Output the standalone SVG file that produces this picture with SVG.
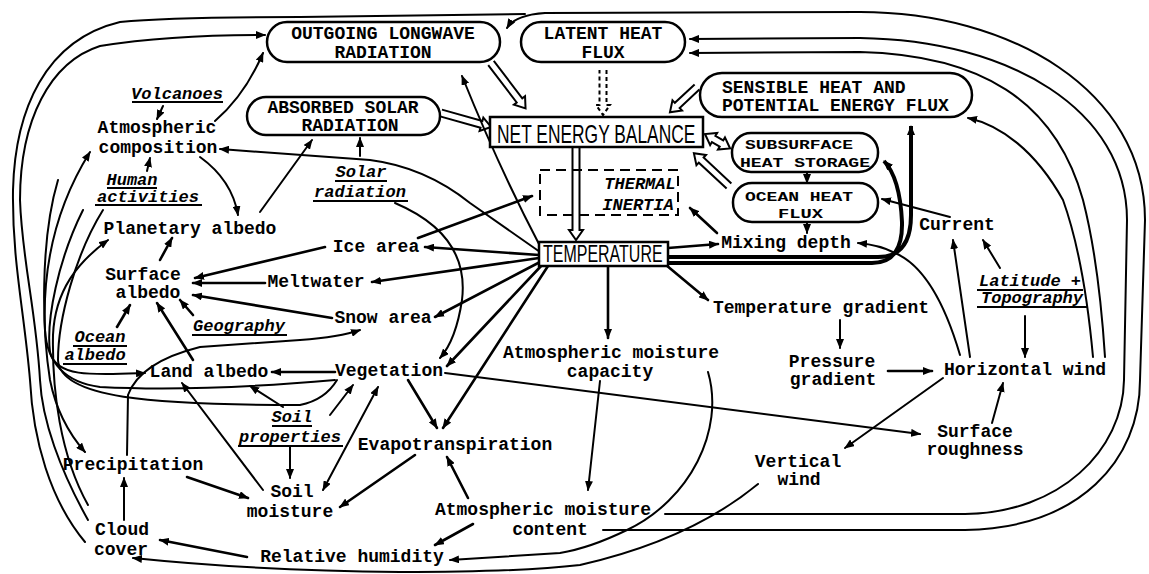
<svg xmlns="http://www.w3.org/2000/svg" width="1149" height="574" viewBox="0 0 1149 574">
<defs>
<marker id="a" viewBox="0 0 10 8" refX="9" refY="4" markerWidth="10" markerHeight="8" markerUnits="userSpaceOnUse" orient="auto-start-reverse"><path d="M0,0 L10,4 L0,8 z" fill="#000"/></marker>
<style>
.t{font-family:"Liberation Mono",monospace;font-weight:bold;font-size:18px;text-anchor:middle;fill:#000}
.s{font-family:"Liberation Mono",monospace;font-weight:bold;font-size:13.5px;fill:#000}
.i{font-family:"Liberation Mono",monospace;font-weight:bold;font-style:italic;font-size:17px;text-anchor:middle;fill:#000}
.box{fill:#fff;stroke:#000;stroke-width:2.5}
.c{fill:none;stroke:#000;stroke-width:2;stroke-linecap:round}
.k{fill:none;stroke:#000;stroke-width:2.6;stroke-linecap:round}
.th{fill:none;stroke:#000;stroke-width:4}
.ar{marker-end:url(#a)}
.dbl{marker-start:url(#a);marker-end:url(#a)}
.u{stroke:#000;stroke-width:2}
.blk{fill:#fff;stroke:#000;stroke-width:2;stroke-linejoin:miter}
.cap{font-family:"Liberation Sans",sans-serif;fill:#000}
</style>
</defs>

<g id="connectors">
<!-- block (hollow) arrows -->
<path class="blk" transform="translate(441,113) rotate(15.6)" d="M0,-3.5 H42 V-7 L52,0 L42,7 V3.5 H0"/>
<path class="blk" transform="translate(491,63) rotate(52.7)" d="M0,-3.5 H47 V-7 L57,0 L47,7 V3.5 H0"/>
<path class="blk" transform="translate(603,70) rotate(90)" d="M0,-3.5 H35 V-7 L45,0 L35,7 V3.5 H0" stroke-dasharray="4,3" stroke-width="1.5"/>
<path class="blk" transform="translate(697,87) rotate(137)" d="M0,-3.5 H27 V-7 L37,0 L27,7 V3.5 H0"/>
<path class="blk" transform="translate(705,134) rotate(30)" d="M10,-3.5 H19 V-7 L29,0 L19,7 V3.5 H10 V7 L0,0 L10,-7 Z"/>
<path class="blk" transform="translate(729,186) rotate(223)" d="M0,-3.5 H38 V-7 L48,0 L38,7 V3.5 H0"/>
<path class="blk" transform="translate(576,147) rotate(90)" d="M0,-3.5 H83 V-7 L93,0 L83,7 V3.5 H0"/>

<!-- outer loops right -->
<path class="c ar" d="M603,530 H965 C1080,528 1140,460 1140,380 L1145,220 C1145,90 1010,12 860,12 L545,13 Q515,15 507,28"/>
<path class="c ar" d="M665,514 H965 C1060,513 1123,450 1124,380 L1127,220 C1127,110 1010,40 860,38 L690,39"/>
<path class="c ar" d="M1105,357 C1100,280 1092,235 1083,200 C1055,100 980,55 860,52 L690,53"/>
<path class="c ar" d="M1093,357 C1085,270 1072,225 1063,200 C1035,150 1000,125 968,118"/>

<!-- outer loops left -->
<path class="c" d="M85,542 C50,500 33,440 30,380 C24,310 12,260 13,190 C15,110 45,40 120,22 Q170,17 300,17 L525,14"/>
<path class="c ar" d="M88,520 C60,470 42,420 40,380 C36,310 22,260 20,200 C20,120 50,62 100,46 Q170,35 265,35"/>
<path class="c ar" d="M88,505 C60,455 52,390 53,335 C55,290 78,262 108,240"/>
<path class="c ar" d="M58,180 C40,240 42,330 50,380 C56,410 70,435 85,452"/>
<path class="c ar" d="M335,380 Q200,392 100,387 Q48,380 45,330 C42,260 60,200 90,152"/>
<path class="c ar" d="M83,210 C58,260 46,320 50,352 C56,378 95,375 145,373"/>
<path class="c" d="M103,210 C75,255 58,320 58,360 C60,398 150,405 300,405 Q325,400 337,380"/>

<!-- top-left -->
<path class="c ar" d="M163,106 L157,119"/>
<path class="c ar" d="M147,171 L150,158"/>
<path class="c ar" d="M215,121 Q245,95 263,53"/>
<path class="c ar" d="M200,157 Q232,180 238,215"/>
<path class="c ar" d="M260,212 L312,140"/>
<path class="c ar" d="M360,156 L360,138"/>
<path class="c ar" d="M540,252 L470,203 Q425,167 370,160 L220,149"/>
<path class="c ar" d="M540,246 Q500,170 462,76"/>
<path class="c ar" d="M395,203 Q470,235 462,300 Q456,340 440,358"/>

<!-- temperature fan -->
<path class="k ar" d="M418,238 L532,196"/>
<path class="k ar" d="M539,255 L425,247"/>
<path class="k ar" d="M539,258 L372,282"/>
<path class="k ar" d="M540,262 L435,317"/>
<path class="k ar" d="M542,265 L447,366"/>
<path class="k ar" d="M548,266 L443,428"/>
<path class="k ar" d="M608,266 L608,338"/>
<path class="k ar" d="M666,265 L708,300"/>
<path class="k ar" d="M668,248 L718,244"/>
<path class="k ar" d="M717,233 L690,208"/>
<path class="c ar" d="M807,222 L807,233"/>
<path class="c ar" d="M807,172 L807,183"/>

<!-- thick temperature to ocean side -->
<path class="th ar" d="M668,257 H878 Q911,257 911,215 V126"/>
<path class="th ar" d="M668,263 H872 Q903,263 902,222 Q900,178 884,161"/>
<path class="c ar" d="M950,217 L882,199"/>
<path class="c ar" d="M960,355 Q935,270 895,253 Q880,245 858,243"/>
<path class="c ar" d="M970,357 L953,240"/>
<path class="c ar" d="M1000,268 L983,240"/>
<path class="c ar" d="M1025,316 L1025,357" stroke-width="1.5"/>
<path class="c ar" d="M840,320 L840,348" stroke-width="1.5"/>
<path class="k ar" d="M888,371 L932,371"/>
<path class="c ar" d="M943,378 L845,448"/>
<path class="c ar" d="M992,423 L1003,383"/>
<path class="c ar" d="M445,373 L920,434"/>

<!-- moisture chain -->
<path class="c ar" d="M600,381 L588,490" stroke-width="1.5"/>
<path class="c ar" d="M708,372 C725,430 690,500 627,530 Q590,548 560,553 L450,560"/>
<path class="c ar" d="M758,484 Q690,540 580,565 Q520,572 400,572 Q260,571 133,558"/>
<path class="k ar" d="M247,557 L160,540"/>
<path class="k ar" d="M473,524 L435,545"/>
<path class="k ar" d="M468,498 L447,457"/>
<path class="k ar" d="M415,455 L340,507"/>
<path class="c dbl" d="M323,490 L378,387"/>
<path class="c ar" d="M330,415 L353,385"/>
<path class="c ar" d="M290,446 L290,478" stroke-width="1.5"/>
<path class="k ar" d="M408,380 L437,428"/>
<path class="k ar" d="M187,477 L248,498"/>
<path class="c ar" d="M263,490 L182,383"/>
<path class="c ar" d="M283,407 L250,386"/>
<path class="c ar" d="M124,520 L124,478"/>
<path class="c ar" d="M127,455 L128,395 Q140,362 200,347 L300,340 Q340,337 360,330"/>

<!-- albedo cluster -->
<path class="k ar" d="M335,372 L272,372"/>
<path class="k ar" d="M193,360 L157,303"/>
<path class="k ar" d="M193,315 L180,300"/>
<path class="k ar" d="M117,327 L130,305"/>
<path class="k ar" d="M160,260 L172,238"/>
<path class="k ar" d="M325,247 L195,278"/>
<path class="k ar" d="M265,283 L193,283"/>
<path class="k ar" d="M332,318 L193,295"/>
</g>

<g id="n-outgoing"><rect class="box" x="267" y="22" width="233" height="40" rx="20"/><text class="t" x="383" y="39">OUTGOING LONGWAVE</text><text class="t" x="383" y="58">RADIATION</text></g>
<g id="n-latent"><rect class="box" x="521" y="22" width="164" height="40" rx="20"/><text class="t" x="603" y="39">LATENT HEAT</text><text class="t" x="603" y="58">FLUX</text></g>
<g id="n-absorbed"><rect class="box" x="247" y="97" width="193" height="38" rx="19"/><text class="t" x="343" y="113">ABSORBED SOLAR</text><text class="t" x="350" y="131">RADIATION</text></g>
<g id="n-net"><rect class="box" x="490" y="117" width="213" height="30"/><text class="cap" transform="translate(497,143) scale(1,1.45)" x="0" y="0" font-size="17.4">NET ENERGY BALANCE</text></g>
<g id="n-sensible"><rect class="box" x="700" y="73" width="272" height="44" rx="22"/><text class="t" x="722" y="93" style="text-anchor:start">SENSIBLE HEAT AND</text><text class="t" x="722" y="111" style="text-anchor:start">POTENTIAL ENERGY FLUX</text></g>
<g id="n-subsurface"><rect class="box" x="732" y="133" width="146" height="39" rx="19"/><text class="s" x="745" y="149" textLength="108" lengthAdjust="spacingAndGlyphs">SUBSURFACE</text><text class="s" x="740" y="167" textLength="130" lengthAdjust="spacingAndGlyphs">HEAT STORAGE</text></g>
<g id="n-ocean"><rect class="box" x="733" y="183" width="145" height="39" rx="19"/><text class="s" x="745" y="201" textLength="108" lengthAdjust="spacingAndGlyphs">OCEAN HEAT</text><text class="s" x="778" y="218" textLength="45" lengthAdjust="spacingAndGlyphs">FLUX</text></g>
<g id="n-thermal"><rect x="540" y="170" width="138" height="45" fill="none" stroke="#000" stroke-width="2" stroke-dasharray="10,6"/><text class="i" x="640" y="189">THERMAL</text><text class="i" x="638" y="210">INERTIA</text></g>
<g id="n-temperature"><rect class="box" x="539" y="242" width="129" height="24"/><text class="cap" transform="translate(543,262) scale(1,1.5)" x="0" y="0" font-size="16">TEMPERATURE</text></g>

<g id="n-atmcomp"><text class="t" x="157" y="133">Atmospheric</text><text class="t" x="158" y="153">composition</text></g>
<g id="n-volcanoes"><text class="i" x="177" y="99">Volcanoes</text><line class="u" x1="132" y1="102" x2="223" y2="102"/></g>
<g id="n-human"><text class="i" x="132" y="185">Human</text><line class="u" x1="107" y1="188" x2="157" y2="188"/><text class="i" x="148" y="202">activities</text><line class="u" x1="95" y1="205" x2="202" y2="205"/></g>
<g id="n-solar"><text class="i" x="361" y="177">Solar</text><line class="u" x1="335" y1="181" x2="387" y2="181"/><text class="i" x="360" y="197">radiation</text><line class="u" x1="313" y1="201" x2="408" y2="201"/></g>
<g id="n-planetary"><text class="t" x="190" y="234">Planetary albedo</text></g>
<g id="n-surface"><text class="t" x="143" y="280">Surface</text><text class="t" x="148" y="298">albedo</text></g>
<g id="n-ice"><text class="t" x="376" y="252">Ice area</text></g>
<g id="n-melt"><text class="t" x="316" y="287">Meltwater</text></g>
<g id="n-snow"><text class="t" x="383" y="323">Snow area</text></g>
<g id="n-geography"><text class="i" x="239" y="331">Geography</text><line class="u" x1="192" y1="335" x2="287" y2="335"/></g>
<g id="n-ocean-albedo"><text class="i" x="100" y="342">Ocean</text><line class="u" x1="73" y1="346" x2="127" y2="346"/><text class="i" x="95" y="360">albedo</text><line class="u" x1="63" y1="364" x2="127" y2="364"/></g>
<g id="n-land"><text class="t" x="209" y="377">Land albedo</text></g>
<g id="n-vegetation"><text class="t" x="389" y="376">Vegetation</text></g>
<g id="n-soilprop"><text class="i" x="292" y="422">Soil</text><line class="u" x1="272" y1="426" x2="312" y2="426"/><text class="i" x="290" y="442">properties</text><line class="u" x1="238" y1="446" x2="343" y2="446"/></g>
<g id="n-evap"><text class="t" x="455" y="450">Evapotranspiration</text></g>
<g id="n-soilmoist"><text class="t" x="292" y="497">Soil</text><text class="t" x="290" y="517">moisture</text></g>
<g id="n-precip"><text class="t" x="133" y="470">Precipitation</text></g>
<g id="n-cloud"><text class="t" x="122" y="535">Cloud</text><text class="t" x="121" y="555">cover</text></g>
<g id="n-relhum"><text class="t" x="352" y="562">Relative humidity</text></g>
<g id="n-content"><text class="t" x="543" y="515">Atmospheric moisture</text><text class="t" x="550" y="535">content</text></g>
<g id="n-capacity"><text class="t" x="611" y="358">Atmospheric moisture</text><text class="t" x="610" y="377">capacity</text></g>
<g id="n-tgrad"><text class="t" x="821" y="313">Temperature gradient</text></g>
<g id="n-pgrad"><text class="t" x="832" y="367">Pressure</text><text class="t" x="833" y="385">gradient</text></g>
<g id="n-hwind"><text class="t" x="1025" y="375">Horizontal wind</text></g>
<g id="n-mixing"><text class="t" x="786" y="248">Mixing depth</text></g>
<g id="n-current"><text class="t" x="957" y="230">Current</text></g>
<g id="n-latitude"><text class="i" x="1030" y="286">Latitude +</text><line class="u" x1="977" y1="290" x2="1083" y2="290"/><text class="i" x="1032" y="303">Topography</text><line class="u" x1="977" y1="307" x2="1087" y2="307"/></g>
<g id="n-roughness"><text class="t" x="975" y="437">Surface</text><text class="t" x="975" y="455">roughness</text></g>
<g id="n-vwind"><text class="t" x="798" y="467">Vertical</text><text class="t" x="799" y="485">wind</text></g>
</svg>
